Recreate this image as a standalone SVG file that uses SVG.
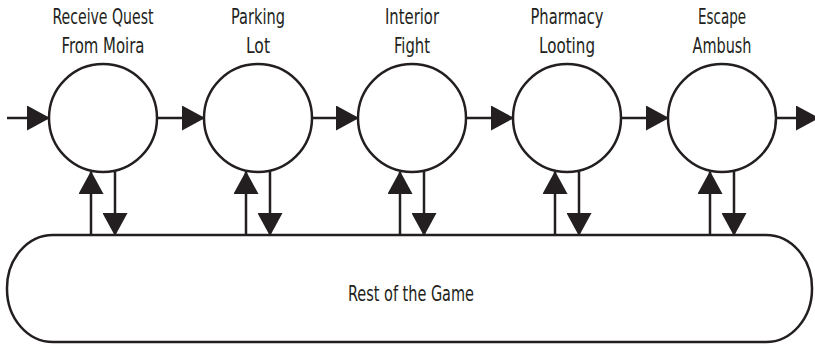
<svg xmlns="http://www.w3.org/2000/svg" width="815" height="346" viewBox="0 0 815 346">
<style>
.n{fill:#fff;stroke:#231f20;stroke-width:2.5}
.c line{stroke:#231f20;stroke-width:2.5}
text{font-family:"DejaVu Sans Condensed","Liberation Sans",sans-serif;font-size:21px;fill:#231f20;text-anchor:middle}
</style>
<defs>
<marker id="a" viewBox="0 0 23 25" refX="22" refY="12.5" markerWidth="23" markerHeight="25" markerUnits="userSpaceOnUse" orient="auto">
<path d="M0,0 L23,12.5 L0,25 z" fill="#231f20"/>
</marker>
</defs>
<rect width="815" height="346" fill="#fff"/>
<g id="rest">
<rect class="n" x="7" y="235" width="805" height="107" rx="46" ry="53"/>
<text x="411" y="301" textLength="126" lengthAdjust="spacingAndGlyphs" style="font-size:22px">Rest of the Game</text>
</g>
<g id="n1"><circle class="n" cx="103" cy="118" r="54"/><text x="103" y="24" textLength="101" lengthAdjust="spacingAndGlyphs">Receive Quest</text><text x="103" y="53" textLength="83" lengthAdjust="spacingAndGlyphs">From Moira</text></g>
<g id="n2"><circle class="n" cx="258" cy="118" r="54"/><text x="258" y="24" textLength="54" lengthAdjust="spacingAndGlyphs">Parking</text><text x="258" y="53" textLength="24" lengthAdjust="spacingAndGlyphs">Lot</text></g>
<g id="n3"><circle class="n" cx="412" cy="118" r="54"/><text x="412" y="24" textLength="54" lengthAdjust="spacingAndGlyphs">Interior</text><text x="412" y="53" textLength="36" lengthAdjust="spacingAndGlyphs">Fight</text></g>
<g id="n4"><circle class="n" cx="567" cy="118" r="54"/><text x="567" y="24" textLength="73" lengthAdjust="spacingAndGlyphs">Pharmacy</text><text x="567" y="53" textLength="56" lengthAdjust="spacingAndGlyphs">Looting</text></g>
<g id="n5"><circle class="n" cx="722" cy="118" r="54"/><text x="722" y="24" textLength="48" lengthAdjust="spacingAndGlyphs">Escape</text><text x="722" y="53" textLength="59" lengthAdjust="spacingAndGlyphs">Ambush</text></g>
<g class="c" marker-end="url(#a)">
<line x1="7" y1="118" x2="49" y2="118"/>
<line x1="157" y1="118" x2="204" y2="118"/>
<line x1="312" y1="118" x2="358" y2="118"/>
<line x1="466" y1="118" x2="513" y2="118"/>
<line x1="621" y1="118" x2="668" y2="118"/>
<line x1="776" y1="118" x2="818" y2="118"/>
<line x1="91" y1="235" x2="91" y2="172"/>
<line x1="115" y1="171" x2="115" y2="235"/>
<line x1="246" y1="235" x2="246" y2="172"/>
<line x1="270" y1="171" x2="270" y2="235"/>
<line x1="400" y1="235" x2="400" y2="172"/>
<line x1="424" y1="171" x2="424" y2="235"/>
<line x1="555" y1="235" x2="555" y2="172"/>
<line x1="579" y1="171" x2="579" y2="235"/>
<line x1="710" y1="235" x2="710" y2="172"/>
<line x1="734" y1="171" x2="734" y2="235"/>
</g>
</svg>
